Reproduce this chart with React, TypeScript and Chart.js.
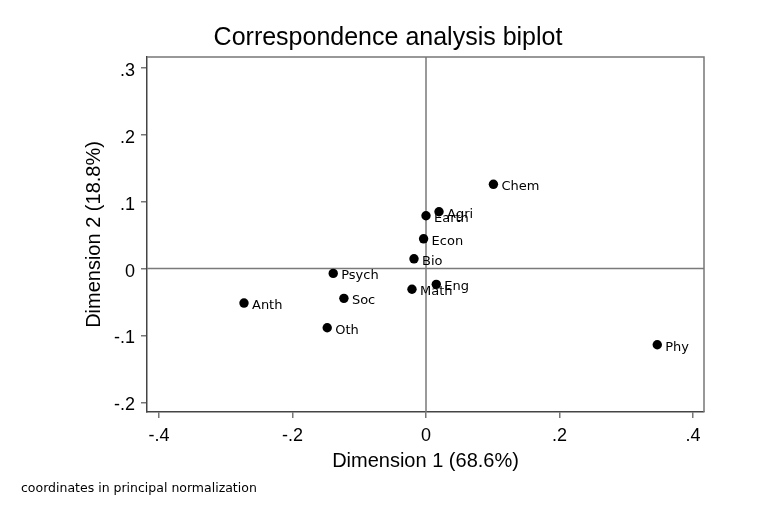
import React, { useEffect, useRef } from "react";
import { Chart, registerables } from "chart.js";

Chart.register(...registerables);

// Column (field of study) coordinates on the first two dimensions
const categories = ["Agri", "Bio", "Chem", "Earth", "Econ", "Eng", "Math", "Phy", "Anth", "Oth", "Psych", "Soc"];
const dim1 = [0.0195, -0.018, 0.101, 0.0, -0.0036, 0.0154, -0.021, 0.3465, -0.2727, -0.148, -0.139, -0.123];
const dim2 = [0.085, 0.0146, 0.126, 0.079, 0.0445, -0.0236, -0.031, -0.114, -0.0516, -0.0885, -0.0072, -0.0445];

const xTicks = [-0.4, -0.2, 0, 0.2, 0.4];
const yTicks = [-0.2, -0.1, 0, 0.1, 0.2, 0.3];

const titleText = "Correspondence analysis biplot";
const xTitle = "Dimension 1 (68.6%)";
const yTitle = "Dimension 2 (18.8%)";
const noteText = "coordinates in principal normalization";

const SANS = "'Liberation Sans', Helvetica, Arial, sans-serif";
const LABEL_FONT = "'DejaVu Sans', Verdana, sans-serif";

const fmt = (v: number) => {
  if (Math.abs(v) < 1e-9) return "0";
  return (v < 0 ? "-" : "") + Math.abs(v).toFixed(1).replace(/^0/, "");
};

const decorations = {
  id: "biplotDecorations",
  beforeDatasetsDraw(chart: any) {
    const { ctx, chartArea, scales } = chart;
    const { left, right, top, bottom } = chartArea;
    ctx.save();
    // reference lines through the origin
    ctx.strokeStyle = "#7a7a7a";
    ctx.lineWidth = 1.5;
    const x0 = scales.x.getPixelForValue(0);
    const y0 = scales.y.getPixelForValue(0);
    ctx.beginPath();
    ctx.moveTo(x0, top);
    ctx.lineTo(x0, bottom);
    ctx.moveTo(left, y0);
    ctx.lineTo(right, y0);
    ctx.stroke();
    // top and right frame
    ctx.strokeStyle = "#777777";
    ctx.beginPath();
    ctx.moveTo(left, top);
    ctx.lineTo(right, top);
    ctx.lineTo(right, bottom);
    ctx.stroke();
    ctx.restore();
  },
  afterDatasetsDraw(chart: any) {
    const { ctx, chartArea, scales } = chart;
    ctx.save();
    ctx.fillStyle = "#000";

    // point labels
    ctx.font = `13px ${LABEL_FONT}`;
    ctx.textAlign = "left";
    ctx.textBaseline = "alphabetic";
    categories.forEach((name, i) => {
      const px = scales.x.getPixelForValue(dim1[i]);
      const py = scales.y.getPixelForValue(dim2[i]);
      ctx.fillText(name, px + 8, py + 6);
    });

    // chart title
    ctx.font = `25px ${SANS}`;
    ctx.textAlign = "center";
    ctx.fillText(titleText, 388, 45);

    // axis titles
    ctx.font = `20px ${SANS}`;
    ctx.fillText(xTitle, (chartArea.left + chartArea.right) / 2, 467);
    ctx.save();
    ctx.translate(100, (chartArea.top + chartArea.bottom) / 2);
    ctx.rotate(-Math.PI / 2);
    ctx.fillText(yTitle, 0, 0);
    ctx.restore();

    // note
    ctx.font = `12.5px ${LABEL_FONT}`;
    ctx.textAlign = "left";
    ctx.fillText(noteText, 21, 492);
    ctx.restore();
  },
};

export default function App() {
  const canvasRef = useRef<HTMLCanvasElement | null>(null);

  useEffect(() => {
    document.body.style.margin = "0";
    const canvas = canvasRef.current;
    if (!canvas) return;

    const tickFont = { family: SANS, size: 18 };

    const chart = new Chart(canvas, {
      type: "scatter",
      data: {
        datasets: [
          {
            label: "Columns",
            data: categories.map((_, i) => ({ x: dim1[i], y: dim2[i] })),
            backgroundColor: "#000",
            borderColor: "#000",
            pointRadius: 4.7,
            pointHoverRadius: 4.7,
            borderWidth: 0,
          },
        ],
      },
      options: {
        animation: false,
        responsive: false,
        devicePixelRatio: 1,
        layout: { padding: { top: 57, right: 73, left: 0, bottom: 0 } },
        plugins: {
          legend: { display: false },
          title: { display: false },
          tooltip: { enabled: false },
        },
        scales: {
          x: {
            type: "linear",
            position: "bottom",
            min: -0.418,
            max: 0.4165,
            afterFit: (s: any) => {
              s.height = 106;
            },
            afterBuildTicks: (s: any) => {
              s.ticks = xTicks.map((v) => ({ value: v }));
            },
            ticks: {
              font: tickFont,
              color: "#000",
              padding: 7,
              maxRotation: 0,
              autoSkip: false,
              callback: (v: any) => fmt(Number(v)),
            },
            grid: {
              drawOnChartArea: false,
              drawTicks: true,
              tickLength: 6,
              color: "#777",
              lineWidth: 1.5,
            },
            border: { display: true, color: "#444", width: 1.5 },
          },
          y: {
            type: "linear",
            position: "left",
            min: -0.2145,
            max: 0.3164,
            afterFit: (s: any) => {
              s.width = 147;
            },
            afterBuildTicks: (s: any) => {
              s.ticks = yTicks.map((v) => ({ value: v }));
            },
            ticks: {
              font: tickFont,
              color: "#000",
              padding: 6,
              labelOffset: 3,
              autoSkip: false,
              callback: (v: any) => fmt(Number(v)),
            },
            grid: {
              drawOnChartArea: false,
              drawTicks: true,
              tickLength: 6,
              color: "#777",
              lineWidth: 1.5,
            },
            border: { display: true, color: "#444", width: 1.5 },
          },
        },
      },
      plugins: [decorations],
    });

    return () => chart.destroy();
  }, []);

  return (
    <div style={{ width: 777, height: 518, background: "#fff" }}>
      <canvas ref={canvasRef} width={777} height={518} style={{ display: "block" }} />
    </div>
  );
}
